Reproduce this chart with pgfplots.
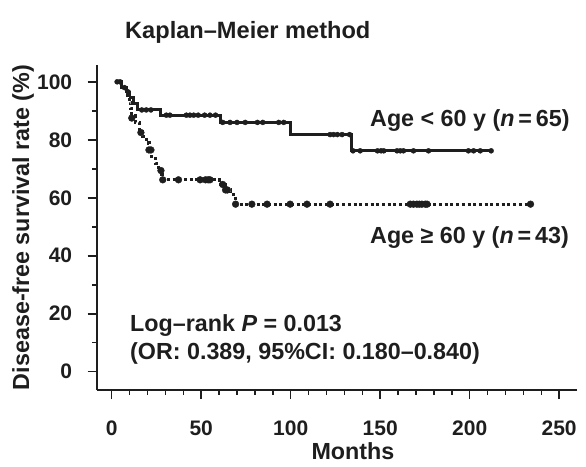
\documentclass[border=0pt]{standalone}
\usepackage{pgfplots}
\pgfplotsset{compat=1.18}
\usepackage{fontspec}
\setmainfont{Liberation Sans}
\definecolor{ink}{HTML}{1E1E1E}
\newcommand{\tickf}{\fontsize{21}{24}\selectfont\bfseries}
\newcommand{\bigf}{\fontsize{23.3}{27}\selectfont\bfseries}
\begin{document}
\begin{tikzpicture}
\path (-96.7pt,-76pt) rectangle (489.3pt,390pt);
\begin{axis}[
  scale only axis, width=480pt, height=325pt,
  xmin=-8.4, xmax=259.8, ymin=-6.3, ymax=105.8,
  axis x line*=bottom, axis y line*=left,
  axis line style={-, line width=1.8pt, ink},
  xtick={0,50,100,150,200,250}, ytick={0,20,40,60,80,100},
  minor xtick={10,20,30,40,60,70,80,90,110,120,130,140,160,170,180,190,210,220,230,240},
  minor ytick={10,30,50,70,90},
  tick align=outside,
  major tick length=9pt, minor tick length=4.5pt,
  tick style={line width=1.5pt, ink},
  /pgf/number format/assume math mode=true,
  ticklabel style={font=\tickf, text=ink},
  xticklabel style={yshift=-18pt},
  yticklabel style={xshift=-12pt},
  ylabel={Disease-free survival rate (\%)},
  ylabel style={font=\bigf, text=ink, at={(axis description cs:-0.1535,0.5)}, anchor=center},
  clip=false,
]
\addplot[const plot, line width=2.9pt, ink] coordinates {
(2,100) (5.7,98) (8.1,96.5) (10.2,94.5) (12.2,92.5) (14.2,90.3) (27,88.5) (60.6,86) (99.7,81.8) (134.2,76.2) (212.5,76.2)};
\addplot[only marks, mark=*, mark size=2.5pt, ink] coordinates {
(3,100) (4.6,100) (7.1,98) (9.2,96.5) (16.8,90.3) (19.3,90.3) (21.9,90.3) (30.5,88.5) (32.5,88.5) (41.7,88.5) (43.7,88.5) (45.8,88.5) (48.3,88.5) (51.9,88.5) (54.9,88.5) (58,88.5)
(62,86) (66.1,86) (70,86) (74.6,86) (81.4,86) (84.4,86) (93.3,86) (96.1,86)
(122,81.8) (124,81.8) (126.1,81.8) (128.7,81.8) (132.9,81.8)
(134.8,76.2) (138.8,76.2) (148.5,76.2) (150.5,76.2) (152,76.2) (159.4,76.2) (161.2,76.2) (163,76.2) (168.6,76.2) (177,76.2) (199.3,76.2) (202.2,76.2) (205.9,76.2) (212,76.2)};
\addplot[const plot, line width=3.1pt, ink, dash pattern=on 3pt off 2.7pt] coordinates {
(8.1,95.4) (9.7,93) (10.7,90.7) (11.2,88.4) (13.2,86) (15.3,83.6) (17.3,81.2) (19.3,78.9) (20.8,76.5) (22.4,74.1) (24.4,71.8) (26.1,69.4) (28.1,66.2) (60,64.6) (63.5,62.7) (66.6,61) (69.2,57.8) (234,57.8)};
\addplot[only marks, mark=*, mark size=3.4pt, ink] coordinates {
(11.2,87.5) (16.3,82.5) (20.8,76.5) (21.9,76.5) (27.5,69.4) (28.5,66.2) (37.3,66.2) (49.4,66.2) (52.4,66.2) (53.9,66.2) (54.9,66.2) (62,64.6) (63.6,62.7) (64.6,62.7)
(69.2,57.8) (78.3,57.8) (86.8,57.8) (99.7,57.8) (109.1,57.8) (122,57.8) (166.8,57.8) (168.6,57.8) (170.5,57.8) (171.9,57.8) (173.3,57.8) (175.2,57.8) (176.2,57.8) (234,57.8)};
\node[anchor=west, font=\fontsize{23.6}{27}\selectfont\bfseries, text=ink, inner sep=0pt] at (axis cs:7.4,117.1) {Kaplan--Meier method};
\node[anchor=west, font=\bigf, text=ink, inner sep=0pt] at (axis cs:144.3,86.8) {Age < 60 y (\textit{n}\,=\,65)};
\node[anchor=west, font=\bigf, text=ink, inner sep=0pt] at (axis cs:144.3,46.4) {Age ≥ 60 y (\textit{n}\,=\,43)};
\node[anchor=west, font=\bigf, text=ink, inner sep=0pt] at (axis cs:10.2,16.1) {Log--rank \textit{P} = 0.013};
\node[anchor=west, font=\bigf, text=ink, inner sep=0pt] at (axis cs:10.2,6.4) {(OR: 0.389, 95\%CI: 0.180--0.840)};
\node[anchor=center, font=\bigf, text=ink, inner sep=0pt] at (axis cs:134.8,-27.4) {Months};
\end{axis}
\end{tikzpicture}
\end{document}
